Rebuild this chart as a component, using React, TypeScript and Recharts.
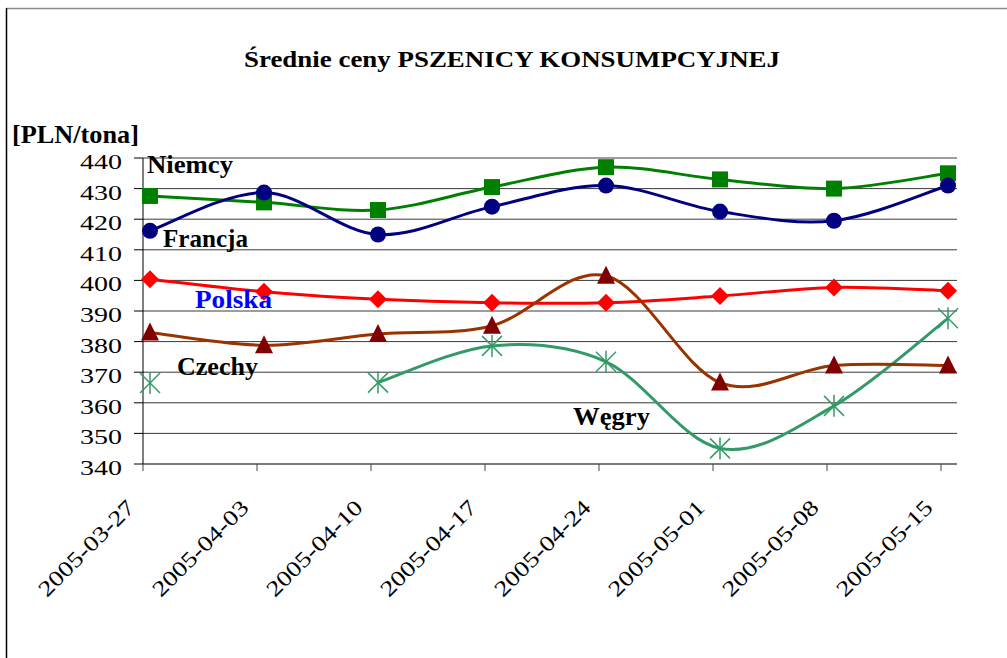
import React from 'react';
import { LineChart, Line, XAxis, YAxis, CartesianGrid } from 'recharts';

const categories = ['2005-03-27', '2005-04-03', '2005-04-10', '2005-04-17', '2005-04-24', '2005-05-01', '2005-05-08', '2005-05-15'];
const niemcy = [427.6, 425.5, 423, 430.5, 437, 433, 430, 435];
const francja = [416.2, 428.7, 415, 424.1, 431, 422.5, 419.5, 431];
const polska = [400.4, 396.3, 393.8, 392.7, 392.7, 394.9, 397.7, 396.6];
const czechy = [383, 378.8, 382.5, 385.2, 401.5, 366.6, 372.2, 372.2];
const wegry: (number | null)[] = [366.5, null, 366.6, 378.6, 373.4, 345.1, 359, 387.6];
const yTicks = [340, 350, 360, 370, 380, 390, 400, 410, 420, 430, 440];

const data = categories.map((c, i) => ({
  date: c,
  niemcy: niemcy[i],
  francja: francja[i],
  polska: polska[i],
  czechy: czechy[i],
  wegry: wegry[i],
}));

const FONT = 'Liberation Serif';

// Excel-like smoothing (Catmull-Rom bezier)
function excelCurve(context: any) {
  let pts: number[][] = [];
  return {
    areaStart() {},
    areaEnd() {},
    lineStart() {
      pts = [];
    },
    point(x: number, y: number) {
      pts.push([+x, +y]);
    },
    lineEnd() {
      if (!pts.length) return;
      context.moveTo(pts[0][0], pts[0][1]);
      if (pts.length === 1) return;
      for (let i = 0; i < pts.length - 1; i++) {
        const p0 = pts[i - 1] || pts[i];
        const p1 = pts[i];
        const p2 = pts[i + 1];
        const p3 = pts[i + 2] || pts[i + 1];
        const c1x = p1[0] + (p2[0] - p0[0]) / 6;
        const c1y = p1[1] + (p2[1] - p0[1]) / 6;
        const c2x = p2[0] - (p3[0] - p1[0]) / 6;
        const c2y = p2[1] - (p3[1] - p1[1]) / 6;
        context.bezierCurveTo(c1x, c1y, c2x, c2y, p2[0], p2[1]);
      }
    },
  };
}

const ok = (p: any) => p && p.value != null && p.cx != null && p.cy != null && !isNaN(p.cy);

const SquareDot = (p: any) =>
  ok(p) ? <rect key={`s${p.index}`} x={p.cx - 8} y={p.cy - 8} width={16} height={16} fill="#008000" /> : <g key={`s${p.index}`} />;
const CircleDot = (p: any) =>
  ok(p) ? <circle key={`c${p.index}`} cx={p.cx} cy={p.cy} r={8} fill="#000080" /> : <g key={`c${p.index}`} />;
const DiamondDot = (p: any) =>
  ok(p) ? (
    <polygon key={`d${p.index}`} points={`${p.cx},${p.cy - 9} ${p.cx + 9},${p.cy} ${p.cx},${p.cy + 9} ${p.cx - 9},${p.cy}`} fill="#FF0000" />
  ) : (
    <g key={`d${p.index}`} />
  );
const TriangleDot = (p: any) =>
  ok(p) ? (
    <polygon key={`t${p.index}`} points={`${p.cx},${p.cy - 10} ${p.cx + 9},${p.cy + 8} ${p.cx - 9},${p.cy + 8}`} fill="#800000" />
  ) : (
    <g key={`t${p.index}`} />
  );
const StarDot = (p: any) =>
  ok(p) ? (
    <g key={`a${p.index}`} stroke="#339966" strokeWidth={1.5}>
      <line x1={p.cx - 10} y1={p.cy - 10} x2={p.cx + 10} y2={p.cy + 10} />
      <line x1={p.cx - 10} y1={p.cy + 10} x2={p.cx + 10} y2={p.cy - 10} />
      <line x1={p.cx} y1={p.cy - 11} x2={p.cx} y2={p.cy + 11} />
    </g>
  ) : (
    <g key={`a${p.index}`} />
  );

const XTick = (props: any) => {
  const { x, y, payload } = props;
  const tx = x - 7;
  return (
    <g>
      <line x1={tx} y1={y} x2={tx} y2={y + 7} stroke="#444" />
      <text
        transform={`translate(${tx - 7},${y + 45}) rotate(-45)`}
        textAnchor="end"
        fontSize={22}
        fontFamily={FONT}
        fill="#000"
        textLength={126}
        lengthAdjust="spacingAndGlyphs"
      >
        {payload.value}
      </text>
    </g>
  );
};

const YTick = (props: any) => {
  const { x, y, payload } = props;
  return (
    <text x={x - 12} y={y + 11} textAnchor="end" fontSize={22} fontFamily={FONT} fill="#000" textLength={42} lengthAdjust="spacingAndGlyphs">
      {payload.value}
    </text>
  );
};

const Label = ({ x, y, w, size = 25, fill = '#000', children }: any) => (
  <text x={x} y={y} fontSize={size} fontWeight="bold" fontFamily={FONT} fill={fill} textLength={w} lengthAdjust="spacingAndGlyphs">
    {children}
  </text>
);

export default function App() {
  return (
    <div style={{ position: 'absolute', left: 0, top: 0, width: 1007, height: 658, background: '#fff', overflow: 'hidden', fontFamily: FONT }}>
      <LineChart width={1007} height={658} data={data} margin={{ top: 158, right: 50, bottom: 0, left: 0 }}>
        <CartesianGrid horizontal vertical={false} stroke="#3a3a3a" strokeWidth={1} />
        <XAxis
          dataKey="date"
          height={194}
          padding={{ left: 7, right: 9 }}
          tickLine={false}
          tickSize={0}
          tickMargin={0}
          axisLine={{ stroke: '#707070', strokeWidth: 1.5 }}
          tick={<XTick />}
          interval={0}
        />
        <YAxis
          width={143}
          domain={[340, 440]}
          ticks={yTicks}
          tickSize={9}
          tickMargin={0}
          tickLine={{ stroke: '#000' }}
          axisLine={{ stroke: '#000' }}
          tick={<YTick />}
          interval={0}
        />
        <YAxis yAxisId="r" orientation="right" width={0} tick={false} tickLine={false} axisLine={{ stroke: '#909090', strokeWidth: 1.5 }} />
        <Line dataKey="polska" type={excelCurve as any} stroke="#FF0000" strokeWidth={3} dot={DiamondDot} activeDot={false} isAnimationActive={false} />
        <Line dataKey="niemcy" type={excelCurve as any} stroke="#008000" strokeWidth={3} dot={SquareDot} activeDot={false} isAnimationActive={false} />
        <Line dataKey="francja" type={excelCurve as any} stroke="#000080" strokeWidth={3} dot={CircleDot} activeDot={false} isAnimationActive={false} />
        <Line dataKey="wegry" type={excelCurve as any} stroke="#339966" strokeWidth={3} dot={StarDot} activeDot={false} isAnimationActive={false} connectNulls={false} />
        <Line dataKey="czechy" type={excelCurve as any} stroke="#993300" strokeWidth={3} dot={TriangleDot} activeDot={false} isAnimationActive={false} />
      </LineChart>
      <svg width={1007} height={658} style={{ position: 'absolute', left: 0, top: 0, pointerEvents: 'none' }}>
        <line x1={6} y1={8.5} x2={1007} y2={8.5} stroke="#8a8a8a" strokeWidth={1.5} />
        <line x1={6.5} y1={8} x2={6.5} y2={658} stroke="#000" strokeWidth={1.5} />
        <Label x={244} y={67} w={536} size={24}>Średnie ceny PSZENICY KONSUMPCYJNEJ</Label>
        <Label x={12} y={143} w={127} size={25}>[PLN/tona]</Label>
        <Label x={147} y={173} w={86}>Niemcy</Label>
        <Label x={163} y={247} w={85}>Francja</Label>
        <Label x={195} y={308} w={77} fill="#0000FF">Polska</Label>
        <Label x={177} y={375} w={81}>Czechy</Label>
        <Label x={573} y={425} w={77}>Węgry</Label>
      </svg>
    </div>
  );
}
